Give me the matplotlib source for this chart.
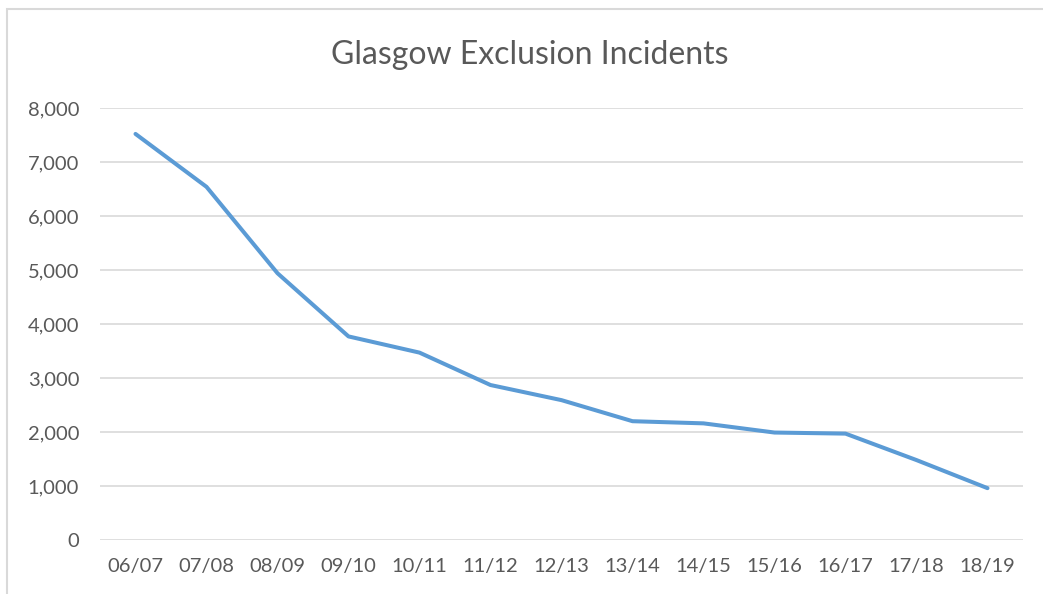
import matplotlib.pyplot as plt
from matplotlib.patches import Rectangle
from matplotlib.ticker import FuncFormatter

plt.rcParams["font.family"] = ["Lato", "DejaVu Sans"]

# School years and exclusion incidents
years = ["06/07", "07/08", "08/09", "09/10", "10/11", "11/12", "12/13",
         "13/14", "14/15", "15/16", "16/17", "17/18", "18/19"]
incidents = [7520, 6540, 4940, 3770, 3470, 2870, 2590,
             2200, 2160, 1990, 1970, 1480, 960]

W, H = 1043, 594
fig = plt.figure(figsize=(W / 100, H / 100), dpi=100)

# Plot area placed in pixel terms
left, right, top, bottom = 100, 1023, 108, 540
ax = fig.add_axes([left / W, 1 - bottom / H, (right - left) / W, (bottom - top) / H])

text_grey = "#595959"
grid_grey = "#d9d9d9"

x = range(len(years))
ax.plot(x, incidents, color="#5b9bd5", linewidth=2.9,
        solid_joinstyle="round", solid_capstyle="round", zorder=3)

ax.set_xlim(-0.5, len(years) - 0.5)
ax.set_ylim(0, 8000)
ax.set_yticks(range(0, 8001, 1000))
ax.yaxis.set_major_formatter(FuncFormatter(lambda v, p: f"{int(v):,}"))
ax.set_xticks(list(x))
ax.set_xticklabels(years)

ax.grid(axis="y", color=grid_grey, linewidth=1.2)
ax.set_axisbelow(True)
for s in ax.spines.values():
    s.set_visible(False)
ax.tick_params(axis="both", length=0, labelsize=14.5, colors=text_grey)
ax.tick_params(axis="y", pad=15)
ax.tick_params(axis="x", pad=13)

# Title
fig.text(530 / W, 1 - 55 / H, "Glasgow Exclusion Incidents", ha="center", va="center",
         fontsize=23, color=text_grey)

# Chart area border (only top and left edges visible in the crop)
fig.patches.append(Rectangle((7 / W, -0.1), 1.2, 1 - 9 / H + 0.1, transform=fig.transFigure,
                             fill=False, edgecolor=grid_grey, linewidth=1.5))

fig.savefig("out.png", dpi=100, facecolor="white")
